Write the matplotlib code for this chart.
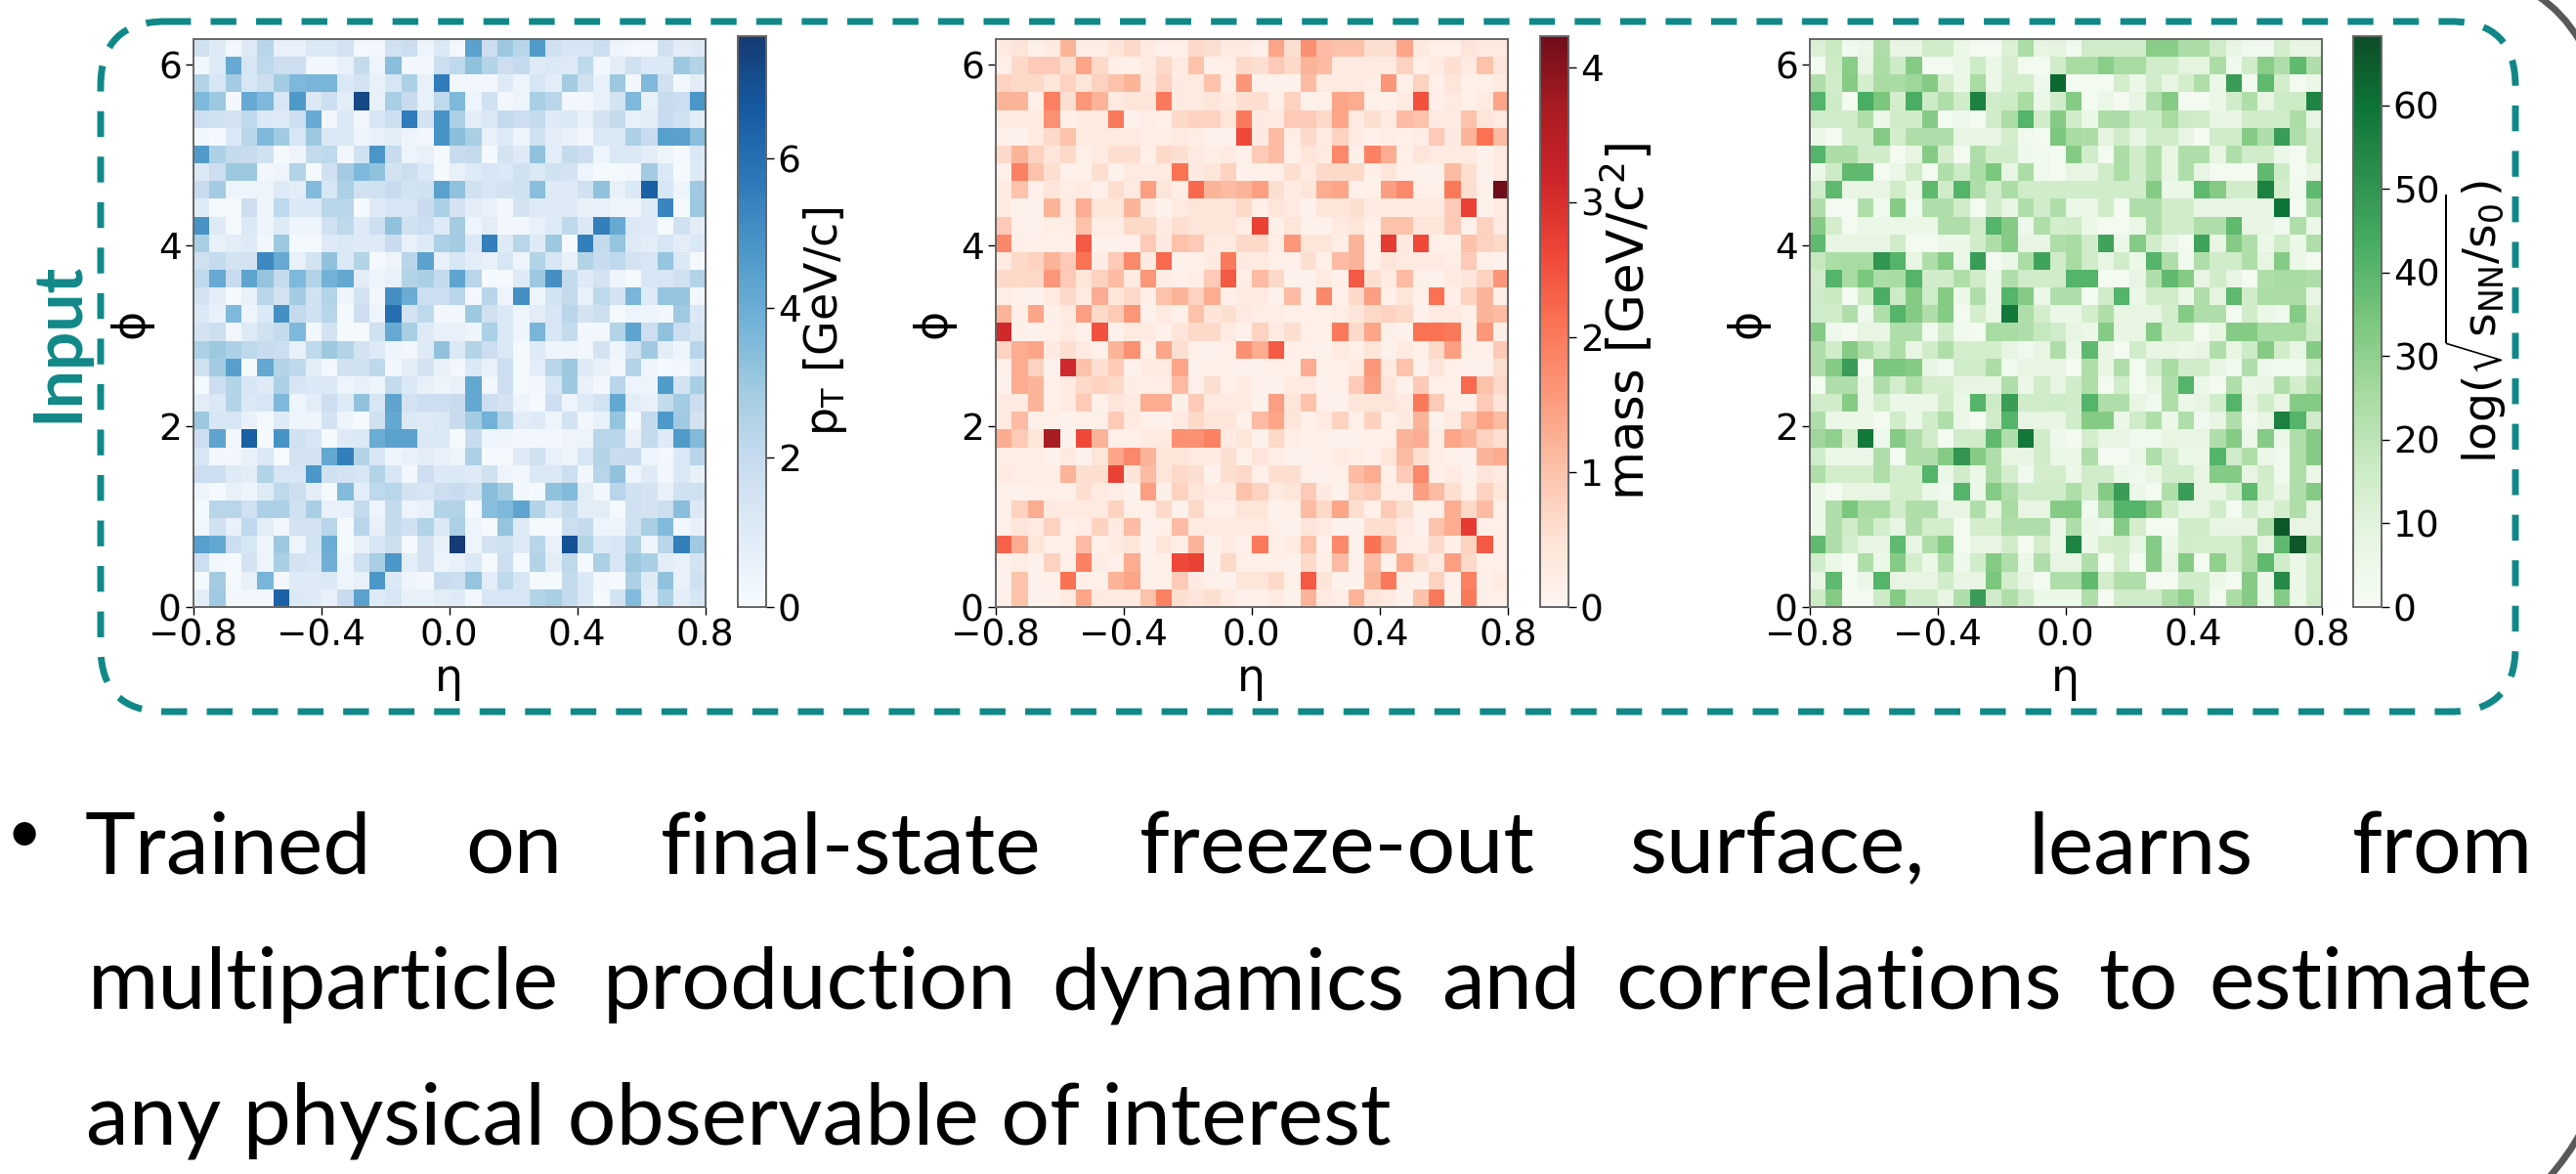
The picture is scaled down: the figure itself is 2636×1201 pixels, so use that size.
import numpy as np
import matplotlib
matplotlib.use('Agg')
import matplotlib.pyplot as plt
from matplotlib.patches import FancyBboxPatch, PathPatch
from matplotlib.path import Path

# values, top row of each heatmap first
pt_values = [
    [1.6,1.0,.2,1.0,2.3,.6,.6,1.15,1.15,1.45,.2,.2,1.6,1.75,.4,1.15,.2,4.4,1.75,3.0,2.3,4.6,1.6,1.3,1.3,1.75,.4,.2,.2,1.6,.8,1.0],
    [.2,1.0,4.1,1.3,2.15,1.75,1.75,.2,.2,.6,2.0,.4,3.35,.2,.2,1.75,2.15,3.25,2.45,1.75,2.0,1.0,1.15,1.0,2.15,.2,.8,1.6,1.15,1.15,3.0,2.45],
    [2.45,1.3,2.85,1.3,1.75,2.85,3.6,3.7,3.7,1.15,1.45,.6,1.3,2.6,.6,5.6,.2,.2,.2,1.0,.4,1.3,.8,2.85,1.6,.6,3.0,.2,3.6,1.6,.2,.8],
    [3.6,3.0,.2,4.1,3.6,1.3,4.7,1.15,1.75,.8,7.2,.6,2.7,1.9,.6,2.15,3.6,.4,1.6,.2,.4,2.7,2.3,.2,.2,.6,1.45,3.6,.6,1.9,1.75,4.8],
    [1.75,1.6,1.45,2.15,1.15,1.0,1.75,4.1,.2,1.15,.2,1.3,1.75,5.6,1.45,4.9,2.6,.8,1.15,2.0,1.75,2.0,1.0,1.15,.6,1.45,2.0,.6,.8,1.9,1.6,.8],
    [.2,.1,1.15,2.3,3.6,2.95,1.3,3.0,1.15,1.15,.4,.6,.8,.4,.2,4.9,3.35,2.7,.6,1.0,.4,1.6,.8,.6,.2,1.15,1.15,2.6,1.9,4.5,4.4,3.35],
    [4.6,2.6,2.0,1.9,1.6,.1,.4,2.0,2.15,.2,1.6,4.8,1.9,.4,.6,.1,1.9,2.0,.1,1.45,1.0,3.25,.8,2.0,1.75,.4,1.15,1.15,.8,.4,.1,1.15],
    [1.15,1.75,3.0,3.0,.2,.4,2.45,.1,1.6,2.85,3.6,3.25,1.45,1.75,1.15,.1,.6,1.0,1.3,1.15,1.6,1.15,1.6,1.45,.4,.1,.1,.2,2.85,1.15,.1,1.0],
    [1.9,2.85,.4,.4,.4,1.0,.8,3.5,1.3,2.6,1.6,1.6,1.9,1.45,1.6,4.4,3.25,1.6,1.3,1.45,1.6,3.35,1.0,1.0,1.6,3.25,.6,1.15,6.5,1.3,.4,2.95],
    [1.0,.1,.1,1.75,.4,2.15,1.15,1.15,2.3,2.3,.1,1.0,1.3,1.3,1.9,2.6,1.45,.8,.6,.2,1.45,1.0,1.0,1.0,.6,.6,.4,.4,1.0,5.3,.1,3.0],
    [4.9,1.0,.1,1.15,.4,1.0,.4,.4,1.6,2.15,1.0,1.75,3.25,1.6,1.75,1.0,2.85,.4,.8,.2,.2,.6,1.0,2.15,1.15,5.5,4.1,1.15,1.0,.1,1.6,.8],
    [2.7,.6,.8,1.0,.2,3.0,.1,.1,1.0,1.15,1.0,1.0,1.9,.6,1.0,2.6,2.85,1.15,5.5,1.0,2.3,1.0,3.0,.1,5.5,2.0,3.15,1.0,.8,1.3,.8,1.15],
    [1.6,2.0,1.45,1.45,5.2,4.1,.6,1.45,3.25,1.15,2.45,.1,.4,2.3,4.4,.6,1.3,.8,.6,1.3,.4,2.45,1.3,.6,2.45,1.9,2.15,1.45,1.3,3.15,1.15,.1],
    [2.15,4.1,1.9,4.3,3.15,2.0,3.6,2.45,3.8,4.2,.8,.4,.6,2.45,2.7,2.0,4.3,2.3,.1,.1,1.0,3.0,5.0,2.0,1.0,1.45,.4,.1,1.3,1.3,1.6,2.45],
    [1.45,.8,.1,.6,2.3,1.45,2.85,1.6,2.45,.4,1.45,.2,5.0,4.0,1.75,1.75,2.3,.2,2.3,.4,5.0,.4,1.45,2.0,.6,2.15,1.45,3.7,1.0,3.15,3.15,.2],
    [1.15,.6,3.6,.4,1.15,5.0,2.0,1.6,2.3,.1,1.75,.4,6.0,1.45,2.15,.2,.2,3.0,1.6,1.15,.4,.8,1.3,2.3,1.45,1.75,.1,.4,.4,.2,2.95,1.15],
    [1.45,1.75,.2,1.0,1.6,2.0,3.6,.2,1.45,.1,.1,1.6,4.1,2.7,1.0,.6,.6,.4,2.6,1.15,.4,3.7,1.3,2.0,.2,.2,2.45,4.3,1.75,3.25,1.75,1.3],
    [2.6,3.0,2.6,2.15,1.9,1.75,.6,2.15,3.0,2.45,1.45,1.0,.4,.2,1.0,3.25,1.15,2.45,1.75,1.15,.1,1.0,.4,.4,.2,1.45,.4,1.6,2.95,.8,.4,2.3],
    [1.6,2.85,4.5,.1,4.2,2.45,2.15,.8,.2,1.6,1.6,2.15,.2,.8,1.45,.6,.2,1.15,.6,1.75,.1,.8,2.3,3.0,1.0,.6,.2,2.45,.4,.1,.2,1.0],
    [.1,1.75,2.45,1.3,1.0,2.6,1.3,1.15,1.15,.4,.6,.4,2.0,1.15,.6,.4,.6,4.2,.2,1.75,.1,.2,1.3,3.0,.6,.2,2.3,.4,.4,4.6,1.45,2.7],
    [.8,1.15,2.45,1.15,1.3,3.6,.4,.8,1.75,1.0,3.25,1.3,4.3,1.45,1.75,1.75,1.9,4.2,1.75,1.45,.4,.1,1.75,.4,1.0,1.45,4.2,.8,.6,2.0,2.85,1.75],
    [3.0,1.3,1.3,.6,.1,1.0,.4,.4,1.45,.4,.1,1.6,4.2,1.15,1.0,1.15,1.9,2.85,3.8,2.45,.8,1.0,.4,1.45,.2,.6,3.15,.1,2.0,4.7,2.95,1.45],
    [1.75,4.3,.2,6.5,.1,4.9,1.6,1.3,.1,1.0,1.15,4.0,4.4,4.4,1.15,1.15,.1,1.9,.4,.4,.2,.2,.2,.4,.4,2.3,2.3,.6,2.0,1.0,4.6,3.5],
    [1.3,.2,.2,.6,1.15,.05,1.45,1.45,4.2,5.5,2.45,1.3,.4,.6,.8,.6,.4,2.6,.1,.1,1.0,1.6,.6,.4,1.3,2.45,1.9,1.9,.4,.2,1.15,2.3],
    [1.75,1.75,1.0,.8,2.45,1.3,1.3,4.75,1.6,1.45,1.3,2.45,1.3,.2,1.75,1.15,1.15,1.0,1.6,.4,.2,1.15,1.15,1.75,.2,2.3,3.25,.4,1.0,.2,1.15,.6],
    [.4,.1,.6,.4,1.0,2.15,1.75,.8,.1,3.5,.8,2.15,2.3,1.45,1.3,1.75,1.9,1.6,3.35,2.85,.2,.1,3.25,3.5,.8,.2,2.3,1.6,1.45,.6,1.6,1.6],
    [.1,2.3,2.3,1.6,2.6,2.6,1.6,2.7,.6,.6,2.0,.4,2.0,.4,.6,2.45,2.45,.1,3.35,3.6,4.3,2.45,1.3,2.0,.8,.8,.1,1.6,1.45,1.75,3.35,1.15],
    [.2,1.6,.6,2.15,.8,.2,1.45,1.45,2.3,.1,2.3,.6,2.0,1.6,2.45,1.15,2.6,.4,.1,3.15,1.0,.1,.1,1.75,2.0,.4,.4,1.6,2.7,3.5,.2,.6],
    [4.5,4.2,1.75,1.3,.4,3.0,.4,1.45,4.0,.1,.6,1.3,1.75,.1,1.45,.6,7.6,.4,1.45,1.6,1.0,2.3,.6,6.9,2.45,1.15,1.3,2.45,.4,2.3,5.5,2.95],
    [1.75,.2,.1,1.45,.4,2.7,1.45,1.3,3.9,.4,1.6,2.7,4.75,.8,1.45,.4,.6,1.15,.1,1.75,.1,2.45,.8,2.15,.1,2.6,1.3,3.0,2.7,.8,.6,1.45],
    [.1,2.85,.1,.6,3.7,.2,1.0,1.0,1.15,.4,.6,4.75,1.15,.4,.2,1.9,1.75,3.15,.8,2.15,1.3,.1,.1,2.0,1.15,.2,.1,2.6,1.0,3.25,.6,1.6],
    [.8,2.95,.2,.2,.2,6.4,1.15,1.0,.6,1.9,4.4,1.0,1.3,.6,.6,.8,1.0,.2,1.3,1.3,1.3,2.45,2.7,2.0,1.15,.1,1.45,3.5,.8,2.6,.8,1.3],
]

mass_values = [
    [.3,.42,.15,.3,1.2,.22,.22,.42,.65,.3,.15,.15,.65,.55,.3,.3,.15,1.4,.55,1.7,1.1,1.0,1.0,.55,.55,1.4,.3,.15,.15,.42,.3,.3],
    [.15,.65,.87,.87,.55,1.4,.65,.15,.15,.3,.65,.3,1.0,.15,.15,.65,.55,.87,.65,1.2,1.1,.3,.3,.3,.3,.75,.15,.3,.55,.3,1.0,.42],
    [.75,.65,.65,.42,.75,.42,.75,1.0,1.2,.3,.75,.3,.3,1.0,.15,1.6,.1,.1,.1,1.1,.3,.3,.3,.22,1.6,.15,.75,.15,.42,.15,.15,.3],
    [1.2,1.2,.15,1.9,.55,1.6,1.2,.3,.42,.42,2.0,.3,.3,.42,.3,.55,.55,.15,.75,.1,.15,1.4,1.3,.15,.15,.3,2.5,.15,.3,.15,.3,1.4],
    [.3,.3,.3,1.7,.15,.3,.3,2.0,.1,.22,.15,.65,.75,.75,.42,2.0,.3,.3,.87,.87,.65,1.4,.3,.55,.3,1.1,1.0,.3,.3,1.0,.42,.3],
    [.15,.1,.3,.65,1.0,.3,.3,.3,.3,.22,.22,.3,.22,.1,.1,2.6,.3,1.1,.22,.65,.3,.75,.3,.15,.22,.15,.22,.87,.3,1.2,2.1,1.1],
    [.65,1.2,.75,.42,.65,.15,.3,.55,.55,.15,.65,.55,.3,.22,.3,.15,.87,1.1,.15,.42,.3,1.8,.15,1.9,1.3,.15,.42,.3,.3,.3,.1,.3],
    [.15,1.9,1.0,.55,.1,.15,.55,.1,.3,.3,.3,2.1,.3,.42,.75,.1,.15,.15,.55,.3,.65,.65,.65,.15,.42,.15,.1,.1,1.1,.55,.1,.3],
    [.3,1.0,.15,.42,.22,.3,.15,.55,.3,1.5,.42,.22,2.2,1.2,1.1,1.2,1.5,.55,.3,.42,1.3,1.4,.15,.15,1.5,1.8,.15,.15,2.0,.55,.15,4.23],
    [.3,.1,.1,1.2,.3,1.3,.42,.42,1.2,.3,.1,.3,.42,.42,.42,.65,.15,.42,.3,.1,.42,.42,.55,.3,.3,.3,.3,.3,.87,2.7,.1,.3],
    [.87,.15,.1,.22,.22,1.0,.22,.22,.65,.65,.3,.55,.42,.42,.42,.22,2.7,.15,.42,.1,.1,.3,.42,.15,1.0,1.0,.42,.42,.87,.1,.75,.3],
    [1.8,.15,.15,.15,.15,2.4,.1,.1,.15,.87,.3,1.0,.87,.3,.3,.65,.65,.22,1.6,.42,.42,.22,1.2,.15,2.8,.3,2.6,.15,.15,1.0,.75,.65],
    [.3,.65,.75,1.2,.87,2.1,.22,.87,1.8,.3,2.2,.1,.15,.3,2.0,.3,.3,.15,.15,.55,.15,1.1,1.2,.15,.42,.3,.3,.3,.22,.87,.15,.1],
    [.65,.65,.65,1.6,.87,.42,.75,1.1,.3,1.6,.22,.15,.22,.87,2.4,.22,1.1,.65,.1,.1,.3,.15,2.4,.55,.3,1.1,.15,.1,.3,.42,.75,1.6],
    [.22,.15,.1,.3,.65,.3,1.3,.42,.65,.15,1.0,1.2,.75,1.3,.15,.3,.3,.1,1.1,.1,1.8,.15,.65,1.5,.15,.42,.15,2.1,.15,.75,1.2,.15],
    [1.2,.15,1.4,.15,.3,1.5,.65,.87,1.6,.1,.3,.15,1.0,.42,.55,.3,.22,.22,.15,.15,.15,.22,.42,.65,.75,.65,.1,.3,.3,.15,1.2,1.1],
    [3.1,.15,.1,.15,.3,.15,2.5,.1,.3,.3,.15,.42,.65,.65,.3,.15,.75,.3,.55,.15,.15,2.0,.65,1.4,.15,.1,2.1,2.1,2.0,.15,1.6,.15],
    [.75,1.3,1.4,.3,.55,.3,.15,1.2,1.7,.15,1.4,.55,.15,.1,.15,1.7,1.3,2.4,.15,.15,.1,.3,.15,.42,.1,.3,.15,.65,1.5,.15,.15,.87],
    [.15,1.3,.75,.1,3.1,1.0,.55,.87,.1,.3,.3,1.4,.1,.15,.15,.1,.1,.15,.15,1.3,.15,.15,.3,1.6,.3,1.0,.1,.42,.15,.1,.1,.55],
    [.1,1.3,1.2,.15,.3,.65,.75,.65,.22,.22,.22,1.1,.15,.55,.15,.3,.15,.1,.3,.3,.1,.15,.87,1.5,.42,.1,.87,.15,.15,2.2,1.0,.65],
    [.3,.3,1.2,.15,.3,.87,.15,.42,.3,1.3,1.3,.15,.87,.3,.3,.3,.1,1.5,.42,1.0,.15,.1,.42,.42,.42,.3,2.0,.87,.15,.15,.87,.42],
    [.3,1.1,.15,.15,.1,.15,.15,.87,.3,.15,.1,.3,.65,.42,.42,.15,1.1,1.4,.42,.15,.3,.75,.15,.75,.15,.3,1.2,.1,.3,1.0,1.4,1.1],
    [1.3,.87,.42,3.7,.1,2.6,1.2,.15,.15,.3,.3,1.7,1.7,1.9,.3,.42,.1,.65,.22,.15,.15,.1,.1,.15,.15,1.2,1.3,.22,1.4,1.2,.75,.55],
    [.22,.22,.22,.1,.3,.1,.42,1.4,1.8,1.2,.42,.42,.3,.3,.55,.15,.42,.22,.1,.1,.15,.3,.22,.15,.42,1.1,.55,.22,.15,.1,1.2,1.3],
    [.3,.22,.22,.22,1.2,.55,.55,2.7,.42,1.1,.42,.65,.55,.1,.55,.65,.15,.55,.55,.15,.1,.15,1.1,1.3,.15,.87,1.8,.15,.3,.1,.42,.3],
    [.15,.1,.15,.15,.15,.55,.3,.22,.1,1.5,.15,.75,.42,.3,.3,1.0,.75,.3,.42,.87,.3,.1,.75,.87,.22,.22,1.5,1.1,.55,.15,.75,.42],
    [.15,.75,1.3,.3,.3,.3,.3,.75,.15,.15,.65,.1,.65,.15,.15,.42,.42,.1,.15,1.1,.65,1.4,.55,.15,.87,.55,.1,.15,1.3,.65,1.1,.15],
    [.15,.42,.3,.75,.15,.22,.75,.3,1.1,.1,.15,1.1,.3,.3,.3,.3,.3,.15,.1,.42,.3,.1,.1,.55,.55,.3,.1,1.0,1.3,2.8,.15,.15],
    [2.3,1.3,.42,.15,.15,1.1,.15,.3,.42,.1,.42,.22,1.2,.1,.3,.15,2.0,.15,.3,1.0,.15,1.8,.1,2.1,1.2,.22,.22,.65,.15,.75,2.4,.15],
    [.15,.22,.1,.75,.15,1.9,.22,.15,1.3,.1,.15,2.6,2.7,.1,.65,.15,.15,.15,.1,.65,.15,1.1,.1,1.1,.1,1.3,.55,.3,1.5,.65,.15,.15],
    [.1,1.0,.1,.15,2.1,.15,.15,1.2,1.4,.15,.15,.87,.3,.15,.1,.42,.42,.65,.15,2.4,.42,.1,.1,1.2,2.0,.15,.1,.75,.15,1.9,.15,.3],
    [.15,1.0,.1,.1,.3,1.4,.3,.3,.3,1.0,1.9,.55,.42,.55,.3,.15,.15,.3,.1,1.2,.3,.22,1.2,.42,.3,.1,1.0,2.0,.1,2.0,.15,.15],
]

energy_values = [
    [12,17,3,6,23,8,8,15,15,6,2,2,12,24,8,9,3,15,15,15,15,31,31,24,24,15,8,3,3,14,8,8],
    [2,16,31,8,24,16,32,2,2,6,16,6,13,2,2,15,25,25,31,25,25,15,15,9,9,24,3,15,31,23,39,23],
    [23,15,32,14,25,25,27,32,14,6,25,6,14,14,4,62,2,2,2,14,6,15,8,14,23,6,48,3,39,14,2,6],
    [41,16,2,43,34,14,43,16,23,15,56,15,16,25,6,15,32,2,6,2,8,23,32,2,2,6,15,23,8,16,16,55],
    [15,15,15,23,6,15,15,32,2,4,2,15,24,41,15,32,15,6,24,24,16,16,25,16,15,8,8,15,15,15,24,8],
    [6,2,15,15,32,14,23,23,23,8,8,8,14,3,2,34,25,24,9,15,8,15,15,8,2,15,15,32,23,48,23,15],
    [41,24,24,15,15,2,8,32,14,2,23,15,15,4,3,2,32,15,2,24,15,23,8,23,23,8,23,15,15,6,2,15],
    [6,16,39,39,2,6,15,2,23,16,24,34,8,24,3,2,8,8,15,24,15,23,8,23,8,2,2,2,39,16,2,8],
    [15,39,8,8,8,15,6,39,15,41,23,15,24,15,15,15,15,15,15,15,15,32,6,6,39,32,15,15,56,14,3,39],
    [23,2,2,23,3,32,3,23,23,15,2,15,8,23,15,23,6,6,15,2,23,23,15,15,8,8,8,8,8,60,2,23],
    [32,14,2,6,6,6,6,6,23,23,15,41,32,4,23,14,15,6,2,2,6,23,15,15,23,23,39,8,8,3,23,6],
    [39,8,8,8,8,15,2,2,6,6,15,23,32,8,8,23,25,15,46,6,32,15,8,2,46,8,32,23,6,15,6,23],
    [18,24,25,25,50,41,8,23,32,6,48,2,6,24,46,15,25,15,8,15,6,41,23,3,23,15,15,23,8,32,6,2],
    [15,41,25,34,24,25,41,15,15,23,15,6,23,15,15,15,41,41,2,2,8,23,39,32,8,15,8,2,23,25,25,23],
    [16,17,2,16,43,16,32,15,32,6,23,6,41,32,6,23,23,2,15,41,6,15,15,6,23,9,39,15,24,24,24,8],
    [15,15,23,4,23,41,32,23,32,2,14,6,58,23,14,6,6,14,23,8,8,8,14,32,23,23,2,15,6,3,32,14],
    [32,4,2,8,8,23,23,3,15,3,2,25,25,23,18,15,8,6,32,8,8,32,14,14,2,8,32,32,25,25,25,16],
    [23,15,32,23,16,23,8,15,23,14,14,14,8,3,8,23,6,39,8,2,15,8,8,6,8,23,8,16,32,15,8,32],
    [23,32,48,2,34,34,32,8,3,15,15,24,3,8,8,8,2,23,8,23,2,15,25,15,15,8,3,23,4,3,3,16],
    [2,23,23,6,23,14,23,14,14,8,8,8,23,6,15,8,15,23,2,15,2,8,23,41,6,2,23,6,8,23,14,23],
    [15,15,32,6,14,6,6,6,15,6,41,16,48,15,15,16,15,41,23,23,8,3,23,6,8,15,41,8,15,8,32,32],
    [23,6,6,6,2,15,6,15,23,6,2,15,41,8,8,8,15,32,32,6,15,23,6,23,3,8,23,3,8,56,41,15],
    [27,30,14,58,4,32,23,15,2,15,15,39,23,58,15,4,2,14,8,8,3,3,8,8,8,23,32,6,32,6,23,32],
    [15,6,6,6,23,2,23,23,32,50,32,23,8,8,15,6,6,23,2,2,6,23,14,6,6,41,15,23,6,3,23,32],
    [23,14,14,14,23,14,14,41,6,15,6,23,14,3,14,14,6,15,15,6,3,8,15,15,8,32,32,8,15,3,23,6],
    [6,2,8,8,8,14,14,6,3,41,6,32,23,15,15,15,23,15,32,48,6,2,23,48,8,8,15,39,14,8,23,32],
    [6,23,34,25,25,15,23,23,8,8,23,8,25,8,8,32,32,3,23,41,41,32,15,8,8,15,2,15,8,14,23,8],
    [6,23,15,23,14,8,23,14,14,2,14,14,23,23,23,6,23,6,3,32,14,2,2,15,15,8,8,8,23,66,8,8],
    [39,23,14,8,8,39,8,23,32,2,8,8,15,2,14,6,55,6,14,15,8,32,6,15,14,14,14,23,8,39,66,23],
    [15,6,2,23,6,32,14,6,23,4,15,32,23,6,23,8,8,23,2,14,2,32,8,32,2,30,14,23,39,15,6,14],
    [8,39,2,6,41,8,8,8,15,8,8,34,14,8,2,23,23,39,14,23,23,2,2,15,15,6,2,32,6,53,6,14],
    [16,32,2,2,16,32,15,15,8,23,48,15,23,15,6,6,6,23,2,15,15,15,24,30,15,2,24,32,6,32,6,15],
]

pt_max = 7.64
mass_max = 4.23
energy_max = 68.3

eta_range = [-0.8, 0.8]
phi_range = [0, 2 * np.pi]
eta_ticks = [-0.8, -0.4, 0.0, 0.4, 0.8]
phi_ticks = [0, 2, 4, 6]
pt_ticks = [0, 2, 4, 6]
mass_ticks = [0, 1, 2, 3, 4]
energy_ticks = [0, 10, 20, 30, 40, 50, 60]

first_line = [('Trained', 87), ('on', 476), ('final-state', 676), ('freeze-out', 1166),
              ('surface,', 1667), ('learns', 2076), ('from', 2407)]
second_line = [('multiparticle', 90), ('production', 617), ('dynamics', 1076), ('and', 1475),
               ('correlations', 1653), ('to', 2147), ('estimate', 2260)]
third_line = 'any physical observable of interest'

W, H = 2636, 1201
TEAL = '#118888'
TICK_SIZE = 27
BODY_SIZE = 63.3


def pixel_rect(x0, y0, x1, y1):
    return [x0 / W, 1 - y1 / H, (x1 - x0) / W, (y1 - y0) / H]


def heatmap_panel(fig, values, cmap, vmax, label, label_size, label_pad, ax_x, cbar_x, cbar_ticks):
    ax = fig.add_axes(pixel_rect(ax_x[0], 40, ax_x[1], 621))
    im = ax.imshow(np.array(values), cmap=cmap, vmin=0, vmax=vmax, aspect='auto', alpha=0.95,
                   interpolation='nearest', extent=[eta_range[0], eta_range[1], phi_range[0], phi_range[1]])
    ax.set_xticks(eta_ticks)
    ax.set_yticks(phi_ticks)
    ax.tick_params(labelsize=TICK_SIZE, length=6, width=1, pad=2.5)
    ax.set_xlabel('η', fontsize=33, labelpad=2)
    ax.set_ylabel('ϕ', fontsize=33, labelpad=4)
    for spine in ax.spines.values():
        spine.set_color('#666666')
        spine.set_linewidth(1.4)

    cax = fig.add_axes(pixel_rect(cbar_x[0], 37, cbar_x[1], 621))
    cbar = fig.colorbar(im, cax=cax)
    cbar.set_ticks(cbar_ticks)
    cbar.ax.tick_params(labelsize=TICK_SIZE, length=6, width=1, pad=2.5)
    cbar.set_label(label, fontsize=label_size, labelpad=label_pad)
    cbar.outline.set_edgecolor('#666666')
    cbar.outline.set_linewidth(1.4)


fig = plt.figure(figsize=(W / 100, H / 100), dpi=100, facecolor='white')

heatmap_panel(fig, pt_values, 'Blues', pt_max, r'p$_{\mathrm{T}}$ [GeV/c]', 33, 0,
              (197.6, 721.6), (755, 784), pt_ticks)
heatmap_panel(fig, mass_values, 'Reds', mass_max, r'mass [GeV/c$^{2}$]', 37, -4,
              (1018.6, 1543), (1576, 1605), mass_ticks)
heatmap_panel(fig, energy_values, 'Greens', energy_max, r'log($\sqrt{\mathrm{s_{NN}/s_0}}$)', 34, 2,
              (1851.6, 2375.6), (2408, 2437), energy_ticks)

# overlay in image pixels for the slide parts around the plots
overlay = fig.add_axes([0, 0, 1, 1], zorder=5)
overlay.set_xlim(0, W)
overlay.set_ylim(H, 0)
overlay.axis('off')

box = FancyBboxPatch((103, 22), 2574 - 103, 728 - 22, boxstyle='round,pad=0,rounding_size=66',
                     fill=False, edgecolor=TEAL, linewidth=5, linestyle=(0, (3.8, 2.9)))
overlay.add_patch(box)

overlay.text(91, 350, 'Input', rotation=90, ha='right', va='center', color=TEAL,
             fontsize=50, family='Lato', fontweight='bold')

for word, x in first_line:
    overlay.text(x, 893, word, fontsize=BODY_SIZE, family='Lato', ha='left', va='baseline', color='black')
for word, x in second_line:
    overlay.text(x, 1032, word, fontsize=BODY_SIZE, family='Lato', ha='left', va='baseline', color='black')
overlay.text(88, 1170, third_line, fontsize=BODY_SIZE, family='Lato', ha='left', va='baseline', color='black')
overlay.text(25, 872, '•', fontsize=45, family='Lato', ha='center', va='baseline', color='black')

# corners of the slide frame
top_corner = Path([(2597, -4), (2622, 12), (2640, 42)], [Path.MOVETO, Path.CURVE3, Path.CURVE3])
bottom_corner = Path([(2640, 1160), (2628, 1182), (2608, 1205)], [Path.MOVETO, Path.CURVE3, Path.CURVE3])
for corner in [top_corner, bottom_corner]:
    overlay.add_patch(PathPatch(corner, fill=False, edgecolor='#595959', linewidth=5))

fig.savefig('out.png', dpi=100)
